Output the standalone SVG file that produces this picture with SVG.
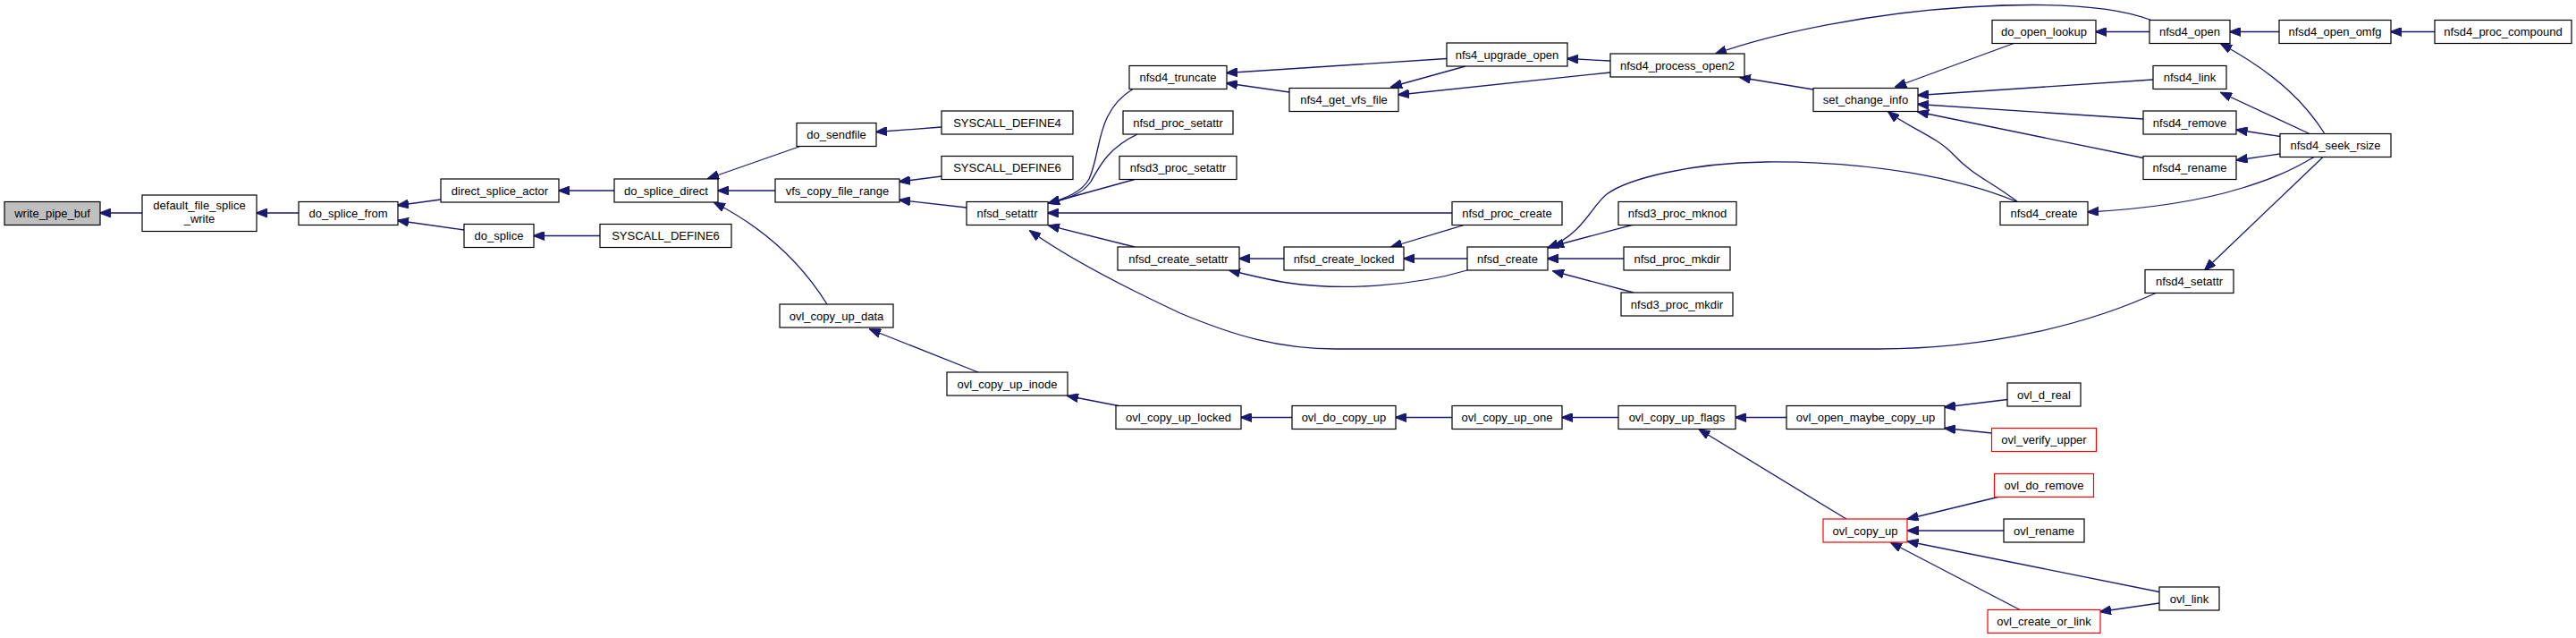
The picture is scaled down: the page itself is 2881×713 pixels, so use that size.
<svg xmlns="http://www.w3.org/2000/svg" width="2881" height="713" viewBox="0 0 2881 713">
<style>
.n rect{fill:#fff;stroke:#000;stroke-width:1.2}
.r rect{fill:#fff;stroke:#f00;stroke-width:1.2}
.g rect{fill:#bfbfbf;stroke:#000;stroke-width:1.2}
text{font-family:"Liberation Sans",Arial,sans-serif;font-size:13px;fill:#000;text-anchor:middle}
#edges path{fill:none;stroke:#191970;stroke-width:1.3;marker-end:url(#ah)}
</style>
<defs>
<marker id="ah" viewBox="0 0 13 10" refX="12" refY="5" markerWidth="13" markerHeight="10" markerUnits="userSpaceOnUse" orient="auto">
<path d="M0,0 L13,5 L0,10 z" fill="#191970" stroke="#191970" stroke-width="1"/>
</marker>
</defs>
<rect width="2881" height="713" fill="#fff"/>
<g id="edges">
<path d="M159,238 L112,238"/>
<path d="M334,238 L287,238"/>
<path d="M493,223 L445,229.5"/>
<path d="M519,257 L445,246.5"/>
<path d="M687,213 L625,213"/>
<path d="M671,263.5 L597,263.5"/>
<path d="M895,163.5 L792,199.5"/>
<path d="M867,213 L803,213"/>
<path d="M925,340 C895,292 855,255 799,226.5"/>
<path d="M1053,142 L980,147.5"/>
<path d="M1053,197 L1006,203"/>
<path d="M1081,232 L1006,223.5"/>
<path d="M1267,99.5 C1225,125 1232,170 1218,200 C1210,215 1190,222 1173,227"/>
<path d="M1272,150 C1240,165 1230,185 1220,203 C1210,218 1190,223 1173,227"/>
<path d="M1269,200.5 L1173,227"/>
<path d="M1624,238 L1172,238"/>
<path d="M1269,276 L1173,252"/>
<path d="M2411,327.5 C2340,360 2230,390 2100,390 L1495,390 C1430,390 1380,375 1320,350 C1260,322 1200,292 1152,258"/>
<path d="M1436,289 L1386,289"/>
<path d="M1641,302 C1580,320 1500,325 1440,316 C1415,312 1395,307 1375,302"/>
<path d="M1639,251 L1556,276"/>
<path d="M1641,289 L1570,289"/>
<path d="M2257,226 C2190,198 2090,180 1975,181 C1890,182 1820,200 1797,217 C1780,230 1770,262 1731,277"/>
<path d="M1827,251 L1737,275"/>
<path d="M1816,289 L1731,289"/>
<path d="M1827,327 L1737,303"/>
<path d="M1618,65.5 L1372,81.5"/>
<path d="M1442,103 L1372,93"/>
<path d="M1639,74 L1556,97"/>
<path d="M1801,68 L1753,65.5"/>
<path d="M1801,81 L1564,106"/>
<path d="M2406,22.5 C2360,5 2280,3 2200,8 C2100,14 1990,35 1919,60"/>
<path d="M2028,100 L1946,86.5"/>
<path d="M2252,48.5 L2120,97"/>
<path d="M2408,89 L2145,106.5"/>
<path d="M2397,133 L2145,116.5"/>
<path d="M2397,176.5 L2145,125"/>
<path d="M2257,226 C2230,205 2205,195 2185,173 C2165,152 2135,143 2112,125"/>
<path d="M2404,35.5 L2344,35.5"/>
<path d="M2549,35.5 L2494,35.5"/>
<path d="M2723,35.5 L2674,35.5"/>
<path d="M2600,149.5 C2580,118 2550,85 2484,49"/>
<path d="M2583,149.5 L2484,103.5"/>
<path d="M2550,152.5 L2501.5,145"/>
<path d="M2550,172 L2501.5,179"/>
<path d="M2588,175.5 C2560,192 2540,200 2508,210 C2450,228 2390,234 2335,237"/>
<path d="M2598,175.5 L2466,301.5"/>
<path d="M1094,416 L973,368"/>
<path d="M1251,453.5 L1194,442.5"/>
<path d="M1445,466.5 L1388,466.5"/>
<path d="M1624,466.5 L1561,466.5"/>
<path d="M1810,466.5 L1747,466.5"/>
<path d="M1998,466.5 L1941,466.5"/>
<path d="M2065,580 L1900.5,480"/>
<path d="M2245,446.5 L2175,455"/>
<path d="M2227.5,484 L2175,478.5"/>
<path d="M2234.5,555.5 L2133.5,580"/>
<path d="M2241,593 L2133.5,593"/>
<path d="M2415,661.5 L2133.5,605"/>
<path d="M2259,681.5 L2115,606.5"/>
<path d="M2415,674 L2349,683.5"/>
</g>
<g id="write_pipe_buf" class="g"><rect x="5" y="225.5" width="107" height="26"/><text x="58.5" y="243">write_pipe_buf</text></g>
<g id="default_file_splice_write" class="n"><rect x="159" y="218" width="128" height="40.5"/><text x="223" y="234">default_file_splice</text><text x="223" y="248.5">_write</text></g>
<g id="do_splice_from" class="n"><rect x="334" y="225.5" width="111" height="26"/><text x="389.5" y="243">do_splice_from</text></g>
<g id="direct_splice_actor" class="n"><rect x="493" y="200" width="132" height="26"/><text x="559" y="217.5">direct_splice_actor</text></g>
<g id="do_splice" class="n"><rect x="519" y="250.5" width="78" height="26"/><text x="558" y="268">do_splice</text></g>
<g id="do_splice_direct" class="n"><rect x="687" y="200" width="116" height="26"/><text x="745" y="217.5">do_splice_direct</text></g>
<g id="SYSCALL_DEFINE6_a" class="n"><rect x="671" y="250.5" width="147" height="26"/><text x="744.5" y="268">SYSCALL_DEFINE6</text></g>
<g id="do_sendfile" class="n"><rect x="891" y="137.5" width="89" height="26"/><text x="935.5" y="155">do_sendfile</text></g>
<g id="SYSCALL_DEFINE4" class="n"><rect x="1053" y="124" width="147" height="26"/><text x="1126.5" y="141.5">SYSCALL_DEFINE4</text></g>
<g id="SYSCALL_DEFINE6_b" class="n"><rect x="1053" y="174.5" width="147" height="26"/><text x="1126.5" y="192">SYSCALL_DEFINE6</text></g>
<g id="vfs_copy_file_range" class="n"><rect x="867" y="200" width="139" height="26"/><text x="936.5" y="217.5">vfs_copy_file_range</text></g>
<g id="nfsd_setattr" class="n"><rect x="1081" y="225.5" width="91" height="26"/><text x="1126.5" y="243">nfsd_setattr</text></g>
<g id="ovl_copy_up_data" class="n"><rect x="872" y="340" width="127" height="26"/><text x="935.5" y="357.5">ovl_copy_up_data</text></g>
<g id="nfsd4_truncate" class="n"><rect x="1263" y="73.5" width="109" height="26"/><text x="1317.5" y="91">nfsd4_truncate</text></g>
<g id="nfsd_proc_setattr" class="n"><rect x="1256" y="124" width="123" height="26"/><text x="1317.5" y="141.5">nfsd_proc_setattr</text></g>
<g id="nfsd3_proc_setattr" class="n"><rect x="1252" y="174.5" width="131" height="26"/><text x="1317.5" y="192">nfsd3_proc_setattr</text></g>
<g id="nfsd_create_setattr" class="n"><rect x="1250" y="276" width="136" height="26"/><text x="1318" y="293.5">nfsd_create_setattr</text></g>
<g id="ovl_copy_up_inode" class="n"><rect x="1059" y="416" width="135" height="26"/><text x="1126.5" y="433.5">ovl_copy_up_inode</text></g>
<g id="ovl_copy_up_locked" class="n"><rect x="1248" y="453.5" width="140" height="26"/><text x="1318" y="471">ovl_copy_up_locked</text></g>
<g id="nfs4_upgrade_open" class="n"><rect x="1618" y="48" width="135" height="26"/><text x="1685.5" y="65.5">nfs4_upgrade_open</text></g>
<g id="nfsd4_process_open2" class="n"><rect x="1801" y="60" width="150" height="26"/><text x="1876" y="77.5">nfsd4_process_open2</text></g>
<g id="nfs4_get_vfs_file" class="n"><rect x="1442" y="98.5" width="122" height="26"/><text x="1503" y="116">nfs4_get_vfs_file</text></g>
<g id="set_change_info" class="n"><rect x="2028" y="98.5" width="117" height="26"/><text x="2086.5" y="116">set_change_info</text></g>
<g id="nfsd_proc_create" class="n"><rect x="1624" y="225.5" width="123" height="26"/><text x="1685.5" y="243">nfsd_proc_create</text></g>
<g id="nfsd_create_locked" class="n"><rect x="1436" y="276" width="134" height="26"/><text x="1503" y="293.5">nfsd_create_locked</text></g>
<g id="nfsd_create" class="n"><rect x="1641" y="276" width="90" height="26"/><text x="1686" y="293.5">nfsd_create</text></g>
<g id="nfsd3_proc_mknod" class="n"><rect x="1810" y="225.5" width="132" height="26"/><text x="1876" y="243">nfsd3_proc_mknod</text></g>
<g id="nfsd_proc_mkdir" class="n"><rect x="1816" y="276" width="119" height="26"/><text x="1875.5" y="293.5">nfsd_proc_mkdir</text></g>
<g id="nfsd3_proc_mkdir" class="n"><rect x="1813" y="327" width="125" height="26"/><text x="1875.5" y="344.5">nfsd3_proc_mkdir</text></g>
<g id="ovl_do_copy_up" class="n"><rect x="1445" y="453.5" width="116" height="26"/><text x="1503" y="471">ovl_do_copy_up</text></g>
<g id="ovl_copy_up_one" class="n"><rect x="1624" y="453.5" width="123" height="26"/><text x="1685.5" y="471">ovl_copy_up_one</text></g>
<g id="ovl_copy_up_flags" class="n"><rect x="1810" y="453.5" width="131" height="26"/><text x="1875.5" y="471">ovl_copy_up_flags</text></g>
<g id="ovl_open_maybe_copy_up" class="n"><rect x="1998" y="453.5" width="177" height="26"/><text x="2086.5" y="471">ovl_open_maybe_copy_up</text></g>
<g id="ovl_copy_up" class="r"><rect x="2039" y="580" width="94" height="26"/><text x="2086" y="597.5">ovl_copy_up</text></g>
<g id="do_open_lookup" class="n"><rect x="2228" y="22.5" width="116" height="26"/><text x="2286" y="40">do_open_lookup</text></g>
<g id="nfsd4_open" class="n"><rect x="2404" y="22.5" width="90" height="26"/><text x="2449" y="40">nfsd4_open</text></g>
<g id="nfsd4_open_omfg" class="n"><rect x="2549" y="22.5" width="125" height="26"/><text x="2611.5" y="40">nfsd4_open_omfg</text></g>
<g id="nfsd4_proc_compound" class="n"><rect x="2723" y="22.5" width="153" height="26"/><text x="2799.5" y="40">nfsd4_proc_compound</text></g>
<g id="nfsd4_link" class="n"><rect x="2408" y="73.5" width="82" height="26"/><text x="2449" y="91">nfsd4_link</text></g>
<g id="nfsd4_remove" class="n"><rect x="2397" y="124" width="104" height="26"/><text x="2449" y="141.5">nfsd4_remove</text></g>
<g id="nfsd4_rename" class="n"><rect x="2397" y="174.5" width="104" height="26"/><text x="2449" y="192">nfsd4_rename</text></g>
<g id="nfsd4_seek_rsize" class="n"><rect x="2550" y="149.5" width="124" height="26"/><text x="2612" y="167">nfsd4_seek_rsize</text></g>
<g id="nfsd4_create" class="n"><rect x="2237" y="225.5" width="98" height="26"/><text x="2286" y="243">nfsd4_create</text></g>
<g id="nfsd4_setattr" class="n"><rect x="2399" y="301.5" width="99" height="26"/><text x="2448.5" y="319">nfsd4_setattr</text></g>
<g id="ovl_d_real" class="n"><rect x="2245" y="428" width="82" height="26"/><text x="2286" y="445.5">ovl_d_real</text></g>
<g id="ovl_verify_upper" class="r"><rect x="2227.5" y="478.5" width="117" height="26"/><text x="2286" y="496">ovl_verify_upper</text></g>
<g id="ovl_do_remove" class="r"><rect x="2230.5" y="529.5" width="111" height="26"/><text x="2286" y="547">ovl_do_remove</text></g>
<g id="ovl_rename" class="n"><rect x="2241" y="580" width="90" height="26"/><text x="2286" y="597.5">ovl_rename</text></g>
<g id="ovl_link" class="n"><rect x="2415" y="656" width="67" height="26"/><text x="2448.5" y="673.5">ovl_link</text></g>
<g id="ovl_create_or_link" class="r"><rect x="2223" y="681.5" width="126" height="26"/><text x="2286" y="699">ovl_create_or_link</text></g>
</svg>
